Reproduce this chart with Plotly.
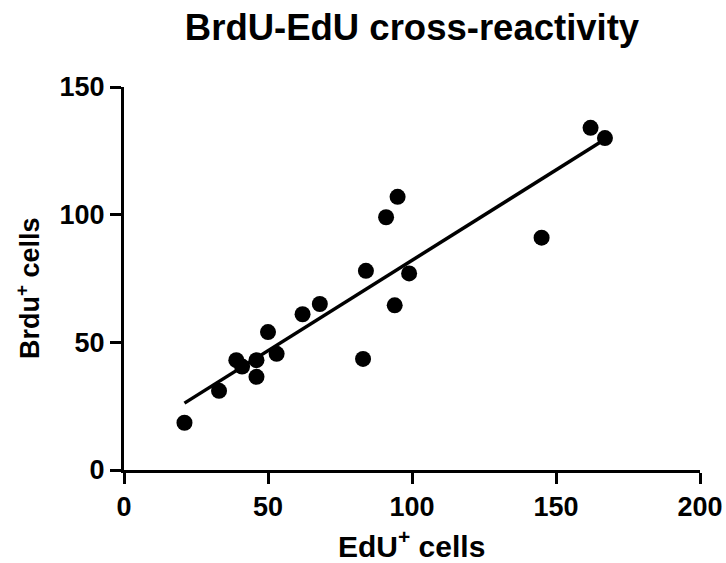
import numpy as np
import plotly.graph_objects as go

edu_cells = [21, 33, 39, 41, 46, 46, 50, 53, 62, 68, 83, 84, 91, 94, 95, 99, 145, 162, 167]
brdu_cells = [18.5, 31, 43, 40.5, 43, 36.5, 54, 45.5, 61, 65, 43.5, 78, 99, 64.5, 107, 77, 91, 134, 130]
x_ticks = [0, 50, 100, 150, 200]
y_ticks = [0, 50, 100, 150]

xs = np.array(edu_cells, dtype=float)
ys = np.array(brdu_cells, dtype=float)
slope, intercept = np.polyfit(xs, ys, 1)
fit_x = [xs.min(), xs.max()]
fit_y = [slope * v + intercept for v in fit_x]

FONT = "Liberation Sans"

fig = go.Figure()
fig.add_trace(go.Scatter(x=fit_x, y=fit_y, mode="lines",
                         line=dict(color="black", width=3.5), hoverinfo="skip"))
fig.add_trace(go.Scatter(x=edu_cells, y=brdu_cells, mode="markers",
                         marker=dict(color="black", size=16, line=dict(width=0))))

axis_common = dict(showline=True, linecolor="black", linewidth=3, ticks="outside",
                   ticklen=11, tickwidth=3, tickcolor="black", showgrid=False,
                   zeroline=False, automargin=False,
                   tickfont=dict(family=FONT, size=27, color="black"))

fig.update_layout(
    width=726, height=563, autosize=False,
    margin=dict(l=124, r=26, t=87, b=93, autoexpand=False),
    paper_bgcolor="white", plot_bgcolor="white",
    showlegend=False,
    title=dict(text="<b>BrdU-EdU cross-reactivity</b>", x=412/726, xref="container",
               xanchor="center", y=1-27/563, yref="container", yanchor="middle",
               font=dict(family=FONT, size=36.5, color="black")),
    xaxis=dict(range=[0, 200], tickvals=x_ticks, ticktext=[f"<b>{v}</b>" for v in x_ticks], **axis_common),
    yaxis=dict(range=[0, 150], tickvals=y_ticks, ticktext=[f"<b>{v}</b>" for v in y_ticks], **axis_common),
    annotations=[
        dict(text="<b>EdU<sup>+</sup> cells</b>", xref="paper", yref="paper",
             x=(411-124)/576, y=(470-543.5)/383, xanchor="center", yanchor="middle", showarrow=False,
             font=dict(family=FONT, size=30, color="black")),
        dict(text="<b>Brdu<sup>+</sup> cells</b>", xref="paper", yref="paper",
             x=(28-124)/576, y=(470-288)/383, xanchor="center", yanchor="middle",
             textangle=-90, showarrow=False,
             font=dict(family=FONT, size=27, color="black")),
    ],
)

fig.write_html("out.html", config={"displayModeBar": False},
               post_script="document.body.style.margin='0';")
